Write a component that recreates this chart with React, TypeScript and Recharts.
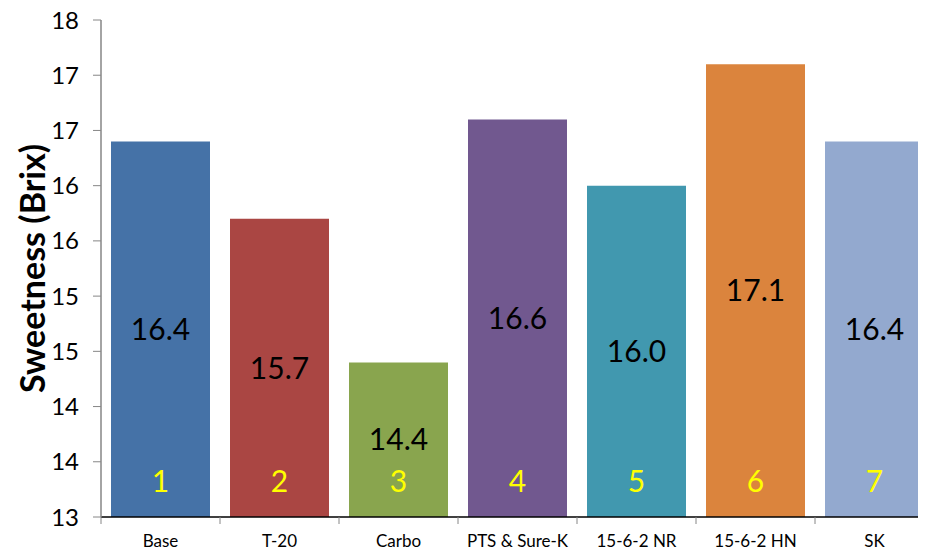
import React from "react";
import { BarChart, Bar, XAxis, YAxis, Cell, LabelList, Label } from "recharts";

// 처리별 당도 (Brix)
const treatments = ["Base", "T-20", "Carbo", "PTS & Sure-K", "15-6-2 NR", "15-6-2 HN", "SK"];
const sweetness = [16.4, 15.7, 14.4, 16.6, 16.0, 17.1, 16.4];
const barNumbers = ["1", "2", "3", "4", "5", "6", "7"];
const barColors = ["#4572A7", "#AA4643", "#89A54E", "#71588F", "#4198AF", "#DB843D", "#93A9CF"];
const yTicks = [13, 13.5, 14, 14.5, 15, 15.5, 16, 16.5, 17, 17.5];

const FONT = "Lato, 'Liberation Sans', sans-serif";

const data = treatments.map((name, i) => ({
  name,
  value: sweetness[i],
  num: barNumbers[i],
}));

// x축: 카테고리 경계에 눈금선, 가운데에 텍스트
const CategoryTick = (props: any) => {
  const { x, y, payload, width } = props;
  const half = width / treatments.length / 2;
  return (
    <g>
      <line x1={x - half} y1={y - 8} x2={x - half} y2={y - 1} stroke="#868686" strokeWidth={1} />
      <text x={x} y={y + 22} textAnchor="middle" fontSize={17} fontFamily={FONT} fill="#000">
        {payload.value}
      </text>
    </g>
  );
};

// 막대 아래쪽 노란 번호
const NumberLabel = (props: any) => {
  const { x, y, width, height, value } = props;
  return (
    <text
      x={x + width / 2}
      y={y + height - 37}
      textAnchor="middle"
      dominantBaseline="central"
      fontSize={30}
      fontFamily={FONT}
      fill="#FFFF00"
    >
      {value}
    </text>
  );
};

const YTitle = (props: any) => {
  const { viewBox } = props;
  const cx = viewBox.x + 31;
  const cy = viewBox.y + viewBox.height / 2;
  return (
    <text
      x={cx}
      y={cy}
      transform={`rotate(-90 ${cx} ${cy})`}
      textAnchor="middle"
      dominantBaseline="central"
      fontSize={34}
      fontWeight="bold"
      fontFamily={FONT}
      fill="#000"
    >
      Sweetness (Brix)
    </text>
  );
};

export default function App() {
  return (
    <div
      style={{
        width: 926,
        height: 556,
        overflow: "hidden",
        margin: -8,
        background: "#fff",
        position: "relative",
      }}
    >
      <BarChart
        width={934}
        height={556}
        data={data}
        margin={{ top: 20, right: 0, left: 0, bottom: 0 }}
        barCategoryGap={10}
      >
        <XAxis
          dataKey="name"
          height={39}
          axisLine={{ stroke: "#000", strokeWidth: 1.5 }}
          tickLine={false}
          tick={<CategoryTick />}
          interval={0}
        />
        <YAxis
          width={101}
          domain={[13, 17.5]}
          ticks={yTicks}
          interval={0}
          allowDataOverflow
          axisLine={{ stroke: "#868686", strokeWidth: 1.5 }}
          tickLine={{ stroke: "#868686" }}
          tickSize={8}
          tickMargin={14}
          tickFormatter={(v: number) => String(Math.round(v))}
          tick={{ fontSize: 24, fontFamily: FONT, fill: "#000" }}
        >
          <Label content={<YTitle />} />
        </YAxis>
        <Bar dataKey="value" isAnimationActive={false}>
          {data.map((d, i) => (
            <Cell key={d.name} fill={barColors[i]} />
          ))}
          <LabelList
            dataKey="value"
            position="center"
            formatter={(v: any) => Number(v).toFixed(1)}
            style={{ fontSize: 30, fontFamily: FONT, fill: "#000" }}
          />
          <LabelList dataKey="num" content={<NumberLabel />} />
        </Bar>
      </BarChart>
    </div>
  );
}
